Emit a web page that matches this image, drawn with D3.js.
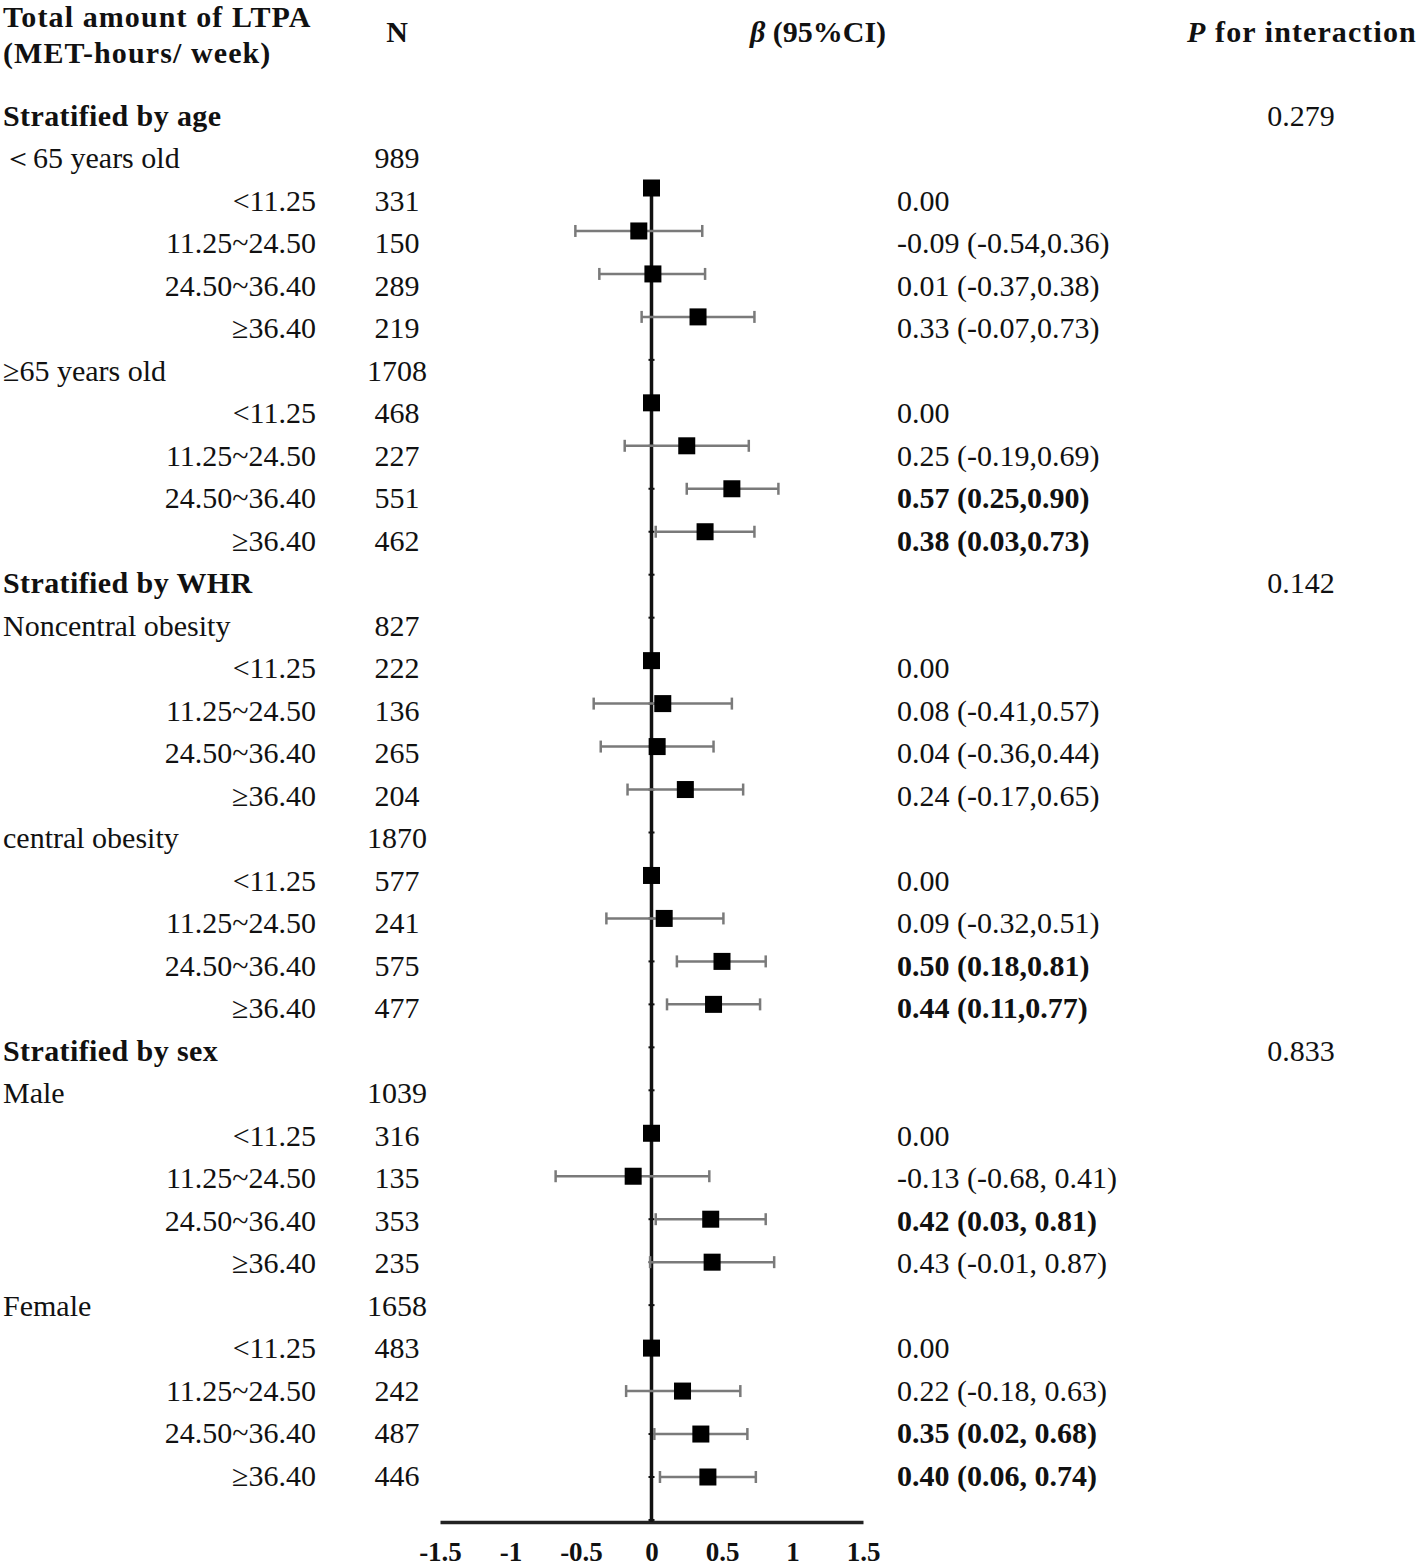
<!DOCTYPE html>
<html>
<head>
<meta charset="utf-8">
<script src="https://cdn.jsdelivr.net/npm/d3@7"></script>
<style>
  html, body { margin: 0; padding: 0; background: #fff; }
  svg { display: block; }
  text { font-family: "Liberation Serif", "Times New Roman", serif; fill: #111; }
</style>
</head>
<body>
<svg id="chart" width="1416" height="1567"></svg>
<script>
// ---------------- DATA ----------------
const rowLabels = [
  "Stratified by age", "＜65 years old", "<11.25", "11.25~24.50", "24.50~36.40", "≥36.40",
  "≥65 years old", "<11.25", "11.25~24.50", "24.50~36.40", "≥36.40",
  "Stratified by WHR", "Noncentral obesity", "<11.25", "11.25~24.50", "24.50~36.40", "≥36.40",
  "central obesity", "<11.25", "11.25~24.50", "24.50~36.40", "≥36.40",
  "Stratified by sex", "Male", "<11.25", "11.25~24.50", "24.50~36.40", "≥36.40",
  "Female", "<11.25", "11.25~24.50", "24.50~36.40", "≥36.40"
];
const rowTypes = [
  "section", "group", "sub", "sub", "sub", "sub",
  "group", "sub", "sub", "sub", "sub",
  "section", "group", "sub", "sub", "sub", "sub",
  "group", "sub", "sub", "sub", "sub",
  "section", "group", "sub", "sub", "sub", "sub",
  "group", "sub", "sub", "sub", "sub"
];
const nValues = [
  "", "989", "331", "150", "289", "219",
  "1708", "468", "227", "551", "462",
  "", "827", "222", "136", "265", "204",
  "1870", "577", "241", "575", "477",
  "", "1039", "316", "135", "353", "235",
  "1658", "483", "242", "487", "446"
];
const betaValues = [
  null, null, 0.00, -0.09, 0.01, 0.33,
  null, 0.00, 0.25, 0.57, 0.38,
  null, null, 0.00, 0.08, 0.04, 0.24,
  null, 0.00, 0.09, 0.50, 0.44,
  null, null, 0.00, -0.13, 0.42, 0.43,
  null, 0.00, 0.22, 0.35, 0.40
];
const lowerValues = [
  null, null, null, -0.54, -0.37, -0.07,
  null, null, -0.19, 0.25, 0.03,
  null, null, null, -0.41, -0.36, -0.17,
  null, null, -0.32, 0.18, 0.11,
  null, null, null, -0.68, 0.03, -0.01,
  null, null, -0.18, 0.02, 0.06
];
const upperValues = [
  null, null, null, 0.36, 0.38, 0.73,
  null, null, 0.69, 0.90, 0.73,
  null, null, null, 0.57, 0.44, 0.65,
  null, null, 0.51, 0.81, 0.77,
  null, null, null, 0.41, 0.81, 0.87,
  null, null, 0.63, 0.68, 0.74
];
const ciTexts = [
  "", "", "0.00", "-0.09 (-0.54,0.36)", "0.01 (-0.37,0.38)", "0.33 (-0.07,0.73)",
  "", "0.00", "0.25 (-0.19,0.69)", "0.57 (0.25,0.90)", "0.38 (0.03,0.73)",
  "", "", "0.00", "0.08 (-0.41,0.57)", "0.04 (-0.36,0.44)", "0.24 (-0.17,0.65)",
  "", "0.00", "0.09 (-0.32,0.51)", "0.50 (0.18,0.81)", "0.44 (0.11,0.77)",
  "", "", "0.00", "-0.13 (-0.68, 0.41)", "0.42 (0.03, 0.81)", "0.43 (-0.01, 0.87)",
  "", "0.00", "0.22 (-0.18, 0.63)", "0.35 (0.02, 0.68)", "0.40 (0.06, 0.74)"
];
const ciBold = [
  false, false, false, false, false, false,
  false, false, false, true, true,
  false, false, false, false, false, false,
  false, false, false, true, true,
  false, false, false, false, true, false,
  false, false, false, true, true
];
const pInteraction = [
  "0.279", "", "", "", "", "", "", "", "", "", "",
  "0.142", "", "", "", "", "", "", "", "", "", "",
  "0.833", "", "", "", "", "", "", "", "", "", ""
];
const axisTicks = [-1.5, -1, -0.5, 0, 0.5, 1, 1.5];
const axisTickLabels = ["-1.5", "-1", "-0.5", "0", "0.5", "1", "1.5"];

// ---------------- LAYOUT ----------------
const svg = d3.select("#chart");
const fs = 30;
const rowIdx = d3.range(rowLabels.length);
const yText = d3.scaleLinear().domain([0, 32]).range([115, 1475]);
const yPlot = d3.scaleLinear().domain([2, 32]).range([188, 1477]);
const x = d3.scaleLinear().domain([-1.5, 1.5]).range([440, 863]);
const axisY = 1522;

// Header
const hdr = svg.append("g").attr("font-weight", "bold").attr("font-size", fs);
hdr.append("text").attr("x", 3).attr("y", 16).attr("dy", "0.35em")
  .attr("letter-spacing", 1.1).text("Total amount of LTPA");
hdr.append("text").attr("x", 3).attr("y", 52).attr("dy", "0.35em")
  .attr("letter-spacing", 1.1).text("(MET-hours/ week)");
hdr.append("text").attr("x", 397).attr("y", 31).attr("dy", "0.35em")
  .attr("text-anchor", "middle").text("N");
const bt = hdr.append("text").attr("x", 818).attr("y", 31).attr("dy", "0.35em")
  .attr("text-anchor", "middle");
bt.append("tspan").attr("font-style", "italic").text("β");
bt.append("tspan").text(" (95%CI)");
const pt = hdr.append("text").attr("x", 1187).attr("y", 31).attr("dy", "0.35em")
  .attr("letter-spacing", 1.1);
pt.append("tspan").attr("font-style", "italic").text("P");
pt.append("tspan").text("  for interaction");

// Row labels
svg.append("g").selectAll("text").data(rowIdx).join("text")
  .attr("x", i => rowTypes[i] === "sub" ? 316 : 3)
  .attr("y", i => yText(i)).attr("dy", "0.35em")
  .attr("text-anchor", i => rowTypes[i] === "sub" ? "end" : "start")
  .attr("font-size", fs)
  .attr("font-weight", i => rowTypes[i] === "section" ? "bold" : "normal")
  .attr("letter-spacing", i => rowTypes[i] === "section" ? 0.4 : 0)
  .text(i => rowLabels[i]);

// N column
svg.append("g").selectAll("text").data(rowIdx.filter(i => nValues[i] !== "")).join("text")
  .attr("x", 397).attr("y", i => yText(i)).attr("dy", "0.35em")
  .attr("text-anchor", "middle").attr("font-size", fs)
  .text(i => nValues[i]);

// CI text
svg.append("g").selectAll("text").data(rowIdx.filter(i => ciTexts[i] !== "")).join("text")
  .attr("x", 897).attr("y", i => yText(i)).attr("dy", "0.35em")
  .attr("font-size", fs)
  .attr("font-weight", i => ciBold[i] ? "bold" : "normal")
  .text(i => ciTexts[i]);

// P for interaction
svg.append("g").selectAll("text").data(rowIdx.filter(i => pInteraction[i] !== "")).join("text")
  .attr("x", 1301).attr("y", i => yText(i)).attr("dy", "0.35em")
  .attr("text-anchor", "middle").attr("font-size", fs)
  .text(i => pInteraction[i]);

// Axis
const axis = d3.axisBottom(x).tickValues(axisTicks)
  .tickFormat((d, k) => axisTickLabels[k]).tickSize(0).tickPadding(20);
const ag = svg.append("g").attr("transform", `translate(0,${axisY})`).call(axis);
ag.select(".domain").attr("stroke", "#222").attr("stroke-width", 3.5);
ag.selectAll(".tick text")
  .attr("font-family", "'Liberation Serif', 'Times New Roman', serif")
  .attr("font-size", 27).attr("font-weight", "bold").attr("fill", "#111");

// Zero line
const plotRows = rowIdx.filter(i => betaValues[i] !== null);
svg.append("line")
  .attr("x1", x(0)).attr("x2", x(0))
  .attr("y1", yPlot(2)).attr("y2", axisY)
  .attr("stroke", "#111").attr("stroke-width", 3.5);
// small ticks along the zero line
svg.append("g").selectAll("line").data(d3.range(2, 34)).join("line")
  .attr("x1", x(0) - 3).attr("x2", x(0) + 3)
  .attr("y1", i => yPlot(i)).attr("y2", i => yPlot(i))
  .attr("stroke", "#111").attr("stroke-width", 2);

// Error bars
const ciRows = plotRows.filter(i => lowerValues[i] !== null);
const eb = svg.append("g").attr("stroke", "#7a7a7a").attr("stroke-width", 2.5);
eb.selectAll("line.h").data(ciRows).join("line").attr("class", "h")
  .attr("x1", i => x(lowerValues[i])).attr("x2", i => x(upperValues[i]))
  .attr("y1", i => yPlot(i)).attr("y2", i => yPlot(i));
eb.selectAll("line.l").data(ciRows).join("line").attr("class", "l")
  .attr("x1", i => x(lowerValues[i])).attr("x2", i => x(lowerValues[i]))
  .attr("y1", i => yPlot(i) - 6).attr("y2", i => yPlot(i) + 6);
eb.selectAll("line.u").data(ciRows).join("line").attr("class", "u")
  .attr("x1", i => x(upperValues[i])).attr("x2", i => x(upperValues[i]))
  .attr("y1", i => yPlot(i) - 6).attr("y2", i => yPlot(i) + 6);

// Markers
const ms = 17;
svg.append("g").selectAll("rect").data(plotRows).join("rect")
  .attr("x", i => x(betaValues[i]) - ms / 2)
  .attr("y", i => yPlot(i) - ms / 2)
  .attr("width", ms).attr("height", ms)
  .attr("fill", "#000");
</script>
</body>
</html>
